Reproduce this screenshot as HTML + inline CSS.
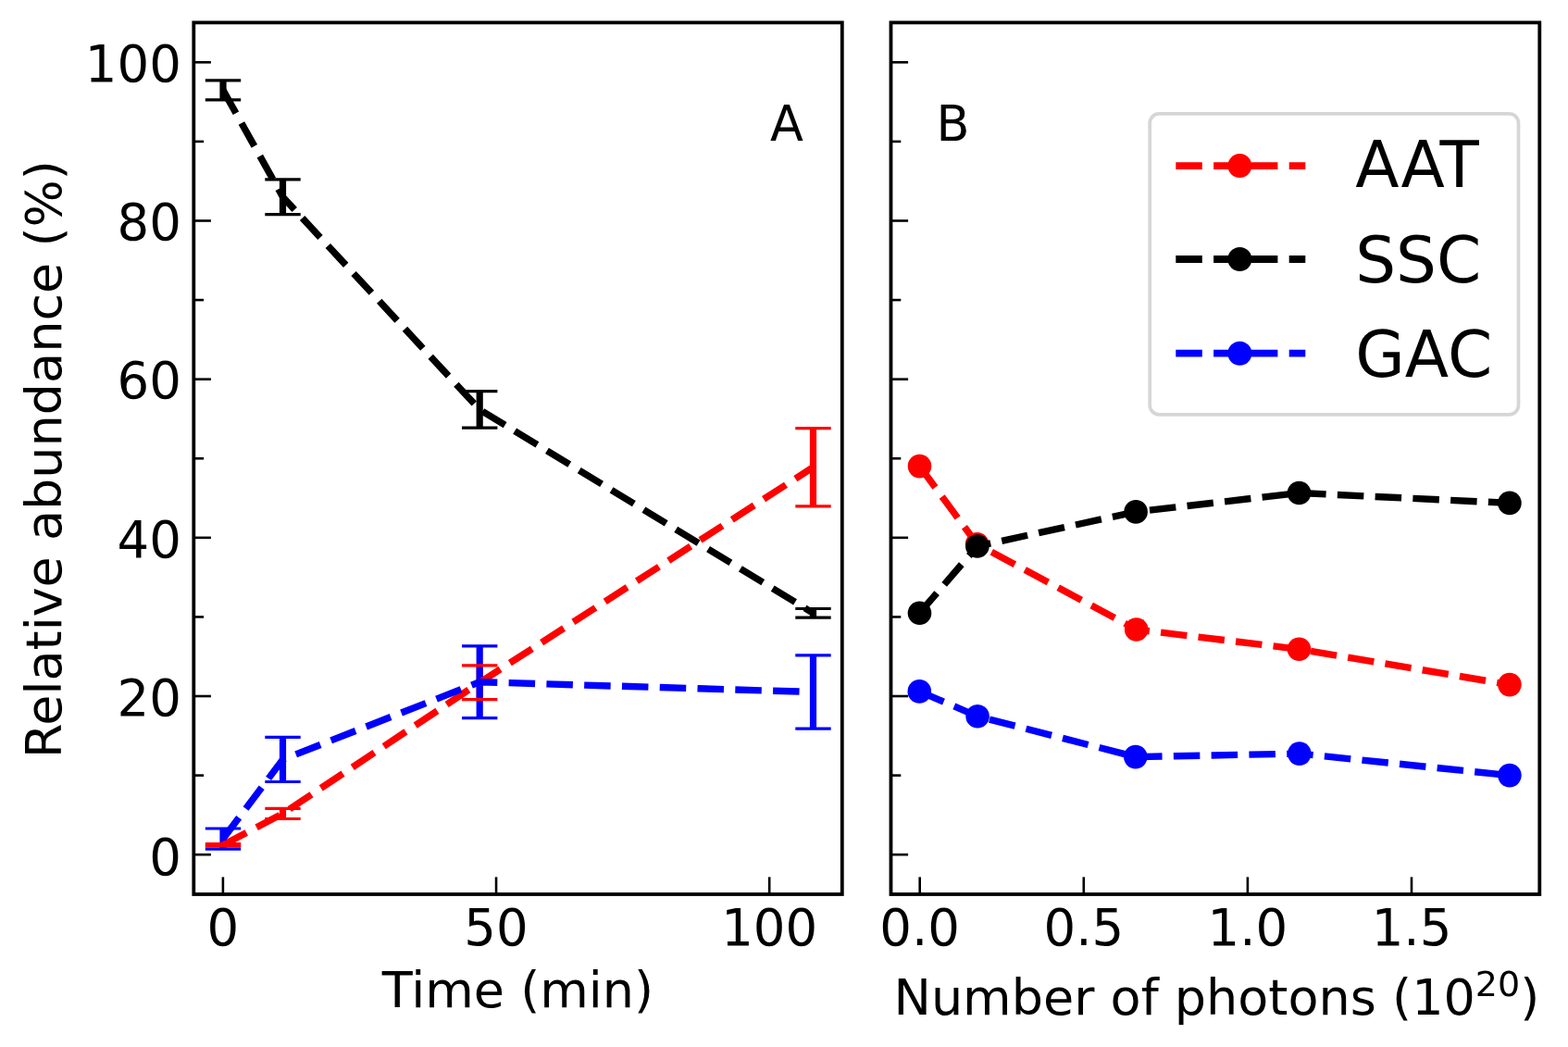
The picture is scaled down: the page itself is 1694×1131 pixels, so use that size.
<!DOCTYPE html>
<html><head><meta charset="utf-8"><title>Relative abundance</title>
<style>html,body{margin:0;padding:0;background:#fff;}svg{display:block;}</style>
</head><body>
<svg width="1694" height="1131" viewBox="0 0 1694 1131">
<rect x="0" y="0" width="1694" height="1131" fill="#ffffff"/>
<g stroke="#000" stroke-width="2.6" fill="none">
<line x1="209.3" y1="923.2" x2="227.9" y2="923.2"/>
<line x1="209.3" y1="752.02" x2="227.9" y2="752.02"/>
<line x1="209.3" y1="580.84" x2="227.9" y2="580.84"/>
<line x1="209.3" y1="409.66" x2="227.9" y2="409.66"/>
<line x1="209.3" y1="238.48" x2="227.9" y2="238.48"/>
<line x1="209.3" y1="67.3" x2="227.9" y2="67.3"/>
<line x1="209.3" y1="837.61" x2="220.1" y2="837.61"/>
<line x1="209.3" y1="666.43" x2="220.1" y2="666.43"/>
<line x1="209.3" y1="495.25" x2="220.1" y2="495.25"/>
<line x1="209.3" y1="324.07" x2="220.1" y2="324.07"/>
<line x1="209.3" y1="152.89" x2="220.1" y2="152.89"/>
<line x1="240.9" y1="966" x2="240.9" y2="947.4"/>
<line x1="536.05" y1="966" x2="536.05" y2="947.4"/>
<line x1="831.2" y1="966" x2="831.2" y2="947.4"/>
<line x1="962.5" y1="923.2" x2="981.1" y2="923.2"/>
<line x1="962.5" y1="752.02" x2="981.1" y2="752.02"/>
<line x1="962.5" y1="580.84" x2="981.1" y2="580.84"/>
<line x1="962.5" y1="409.66" x2="981.1" y2="409.66"/>
<line x1="962.5" y1="238.48" x2="981.1" y2="238.48"/>
<line x1="962.5" y1="67.3" x2="981.1" y2="67.3"/>
<line x1="962.5" y1="837.61" x2="973.3" y2="837.61"/>
<line x1="962.5" y1="666.43" x2="973.3" y2="666.43"/>
<line x1="962.5" y1="495.25" x2="973.3" y2="495.25"/>
<line x1="962.5" y1="324.07" x2="973.3" y2="324.07"/>
<line x1="962.5" y1="152.89" x2="973.3" y2="152.89"/>
<line x1="993.7" y1="966" x2="993.7" y2="947.4"/>
<line x1="1170.8" y1="966" x2="1170.8" y2="947.4"/>
<line x1="1347.9" y1="966" x2="1347.9" y2="947.4"/>
<line x1="1525" y1="966" x2="1525" y2="947.4"/>
</g>
<g stroke="#ff0000" stroke-width="7.2">
<line x1="241" y1="911.6" x2="241" y2="913.8"/>
<line x1="305.5" y1="873.3" x2="305.5" y2="884.5"/>
<line x1="518.2" y1="718.9" x2="518.2" y2="755.7"/>
<line x1="878.5" y1="462.6" x2="878.5" y2="546.8"/>
</g>
<g stroke="#000000" stroke-width="7.2">
<line x1="241" y1="86.94" x2="241" y2="107.9"/>
<line x1="305.5" y1="193.9" x2="305.5" y2="231.6"/>
<line x1="518.2" y1="422.7" x2="518.2" y2="462.2"/>
<line x1="878.5" y1="657.5" x2="878.5" y2="667.1"/>
</g>
<g stroke="#0000ff" stroke-width="7.2">
<line x1="241" y1="895" x2="241" y2="917.1"/>
<line x1="305.5" y1="796.4" x2="305.5" y2="844.5"/>
<line x1="518.2" y1="697.8" x2="518.2" y2="775.6"/>
<line x1="878.5" y1="707.9" x2="878.5" y2="787.1"/>
</g>
<g stroke="#ff0000" stroke-width="3.2">
<line x1="221.8" y1="911.6" x2="260.2" y2="911.6"/>
<line x1="221.8" y1="913.8" x2="260.2" y2="913.8"/>
<line x1="286.3" y1="873.3" x2="324.7" y2="873.3"/>
<line x1="286.3" y1="884.5" x2="324.7" y2="884.5"/>
<line x1="499" y1="718.9" x2="537.4" y2="718.9"/>
<line x1="499" y1="755.7" x2="537.4" y2="755.7"/>
<line x1="859.3" y1="462.6" x2="897.7" y2="462.6"/>
<line x1="859.3" y1="546.8" x2="897.7" y2="546.8"/>
</g>
<g stroke="#000000" stroke-width="3.2">
<line x1="221.8" y1="86.94" x2="260.2" y2="86.94"/>
<line x1="221.8" y1="107.9" x2="260.2" y2="107.9"/>
<line x1="286.3" y1="193.9" x2="324.7" y2="193.9"/>
<line x1="286.3" y1="231.6" x2="324.7" y2="231.6"/>
<line x1="499" y1="422.7" x2="537.4" y2="422.7"/>
<line x1="499" y1="462.2" x2="537.4" y2="462.2"/>
<line x1="859.3" y1="657.5" x2="897.7" y2="657.5"/>
<line x1="859.3" y1="667.1" x2="897.7" y2="667.1"/>
</g>
<g stroke="#0000ff" stroke-width="3.2">
<line x1="221.8" y1="895" x2="260.2" y2="895"/>
<line x1="221.8" y1="917.1" x2="260.2" y2="917.1"/>
<line x1="286.3" y1="796.4" x2="324.7" y2="796.4"/>
<line x1="286.3" y1="844.5" x2="324.7" y2="844.5"/>
<line x1="499" y1="697.8" x2="537.4" y2="697.8"/>
<line x1="499" y1="775.6" x2="537.4" y2="775.6"/>
<line x1="859.3" y1="707.9" x2="897.7" y2="707.9"/>
<line x1="859.3" y1="787.1" x2="897.7" y2="787.1"/>
</g>
<polyline points="241,912.7 305.5,878.9 518.2,737.3 878.5,504.7" fill="none" stroke="#ff0000" stroke-width="7.4" stroke-dasharray="28.5 12.3" stroke-linejoin="round" stroke-linecap="butt"/>
<polyline points="241,97.42 305.5,212.75 518.2,442.45 878.5,662.3" fill="none" stroke="#000000" stroke-width="7.4" stroke-dasharray="28.5 12.3" stroke-linejoin="round" stroke-linecap="butt"/>
<polyline points="241,906.05 305.5,820.45 518.2,736.7 878.5,747.5" fill="none" stroke="#0000ff" stroke-width="7.4" stroke-dasharray="28.5 12.3" stroke-linejoin="round" stroke-linecap="butt"/>
<polyline points="993.5,503.6 1055.6,587.8 1227.7,680 1403.5,701.3 1630.9,739.6" fill="none" stroke="#ff0000" stroke-width="7.4" stroke-dasharray="28.5 12.3" stroke-linejoin="round" stroke-linecap="butt"/>
<circle cx="993.5" cy="503.6" r="12.8" fill="#ff0000"/>
<circle cx="1055.6" cy="587.8" r="12.8" fill="#ff0000"/>
<circle cx="1227.7" cy="680" r="12.8" fill="#ff0000"/>
<circle cx="1403.5" cy="701.3" r="12.8" fill="#ff0000"/>
<circle cx="1630.9" cy="739.6" r="12.8" fill="#ff0000"/>
<polyline points="993.5,662.2 1055.9,590 1227.1,552.9 1403.5,532.5 1630.9,543.4" fill="none" stroke="#000000" stroke-width="7.4" stroke-dasharray="28.5 12.3" stroke-linejoin="round" stroke-linecap="butt"/>
<circle cx="993.5" cy="662.2" r="12.8" fill="#000000"/>
<circle cx="1055.9" cy="590" r="12.8" fill="#000000"/>
<circle cx="1227.1" cy="552.9" r="12.8" fill="#000000"/>
<circle cx="1403.5" cy="532.5" r="12.8" fill="#000000"/>
<circle cx="1630.9" cy="543.4" r="12.8" fill="#000000"/>
<polyline points="993.3,746.9 1056.1,773.8 1226.8,817.6 1403.8,814.1 1630.9,837.6" fill="none" stroke="#0000ff" stroke-width="7.4" stroke-dasharray="28.5 12.3" stroke-linejoin="round" stroke-linecap="butt"/>
<circle cx="993.3" cy="746.9" r="12.8" fill="#0000ff"/>
<circle cx="1056.1" cy="773.8" r="12.8" fill="#0000ff"/>
<circle cx="1226.8" cy="817.6" r="12.8" fill="#0000ff"/>
<circle cx="1403.8" cy="814.1" r="12.8" fill="#0000ff"/>
<circle cx="1630.9" cy="837.6" r="12.8" fill="#0000ff"/>
<g fill="none" stroke="#000" stroke-width="3.8" stroke-linejoin="miter">
<rect x="209.3" y="24.4" width="700.5" height="941.6"/>
<rect x="962.5" y="24.4" width="700.8" height="941.6"/>
</g>
<rect x="1242.2" y="122.9" width="398.3" height="324.9" rx="10" ry="10" fill="#fff" stroke="#d6d6d6" stroke-width="3.7"/>
<line x1="1270.3" y1="179.1" x2="1410.3" y2="179.1" stroke="#ff0000" stroke-width="7.8" stroke-dasharray="28.5 12.3"/>
<circle cx="1339.4" cy="179.1" r="13.0" fill="#ff0000"/>
<line x1="1270.3" y1="280.0" x2="1410.3" y2="280.0" stroke="#000000" stroke-width="7.8" stroke-dasharray="28.5 12.3"/>
<circle cx="1339.4" cy="280.0" r="13.0" fill="#000000"/>
<line x1="1270.3" y1="381.7" x2="1410.3" y2="381.7" stroke="#0000ff" stroke-width="7.8" stroke-dasharray="28.5 12.3"/>
<circle cx="1339.4" cy="381.7" r="13.0" fill="#0000ff"/>
<g font-family="'DejaVu Sans', 'Liberation Sans', sans-serif" fill="#000">
<text x="195.9" y="944.8" font-size="54.5" text-anchor="end">0</text>
<text x="195.9" y="773.1" font-size="54.5" text-anchor="end">20</text>
<text x="195.9" y="601.9" font-size="54.5" text-anchor="end">40</text>
<text x="195.9" y="430.3" font-size="54.5" text-anchor="end">60</text>
<text x="195.9" y="258.8" font-size="54.5" text-anchor="end">80</text>
<text x="195.9" y="88.0" font-size="54.5" text-anchor="end">100</text>
<text x="240.9" y="1021" font-size="54.5" text-anchor="middle">0</text>
<text x="536.05" y="1021" font-size="54.5" text-anchor="middle">50</text>
<text x="831.2" y="1021" font-size="54.5" text-anchor="middle">100</text>
<text x="993.7" y="1021" font-size="54.5" text-anchor="middle">0.0</text>
<text x="1170.8" y="1021" font-size="54.5" text-anchor="middle">0.5</text>
<text x="1347.9" y="1021" font-size="54.5" text-anchor="middle">1.0</text>
<text x="1525" y="1021" font-size="54.5" text-anchor="middle">1.5</text>
<text x="559.5" y="1088.1" font-size="54.0" text-anchor="middle">Time (min)</text>
<text transform="translate(66.4,496) rotate(-90)" x="0" y="0" font-size="54.0" text-anchor="middle">Relative abundance (%)</text>
<text x="965.5" y="1096.1" font-size="54.0">Number of photons (10<tspan font-size="38" dy="-20.4">20</tspan><tspan dy="20.4">)</tspan></text>
<text x="832" y="152.3" font-size="52.5">A</text>
<text x="1011.6" y="152.3" font-size="52.5">B</text>
<text x="1464.2" y="202.3" font-size="69.2">AAT</text>
<text x="1464.2" y="304.6" font-size="69.2">SSC</text>
<text x="1464.2" y="406.5" font-size="69.2">GAC</text>
</g>
</svg>
</body></html>
